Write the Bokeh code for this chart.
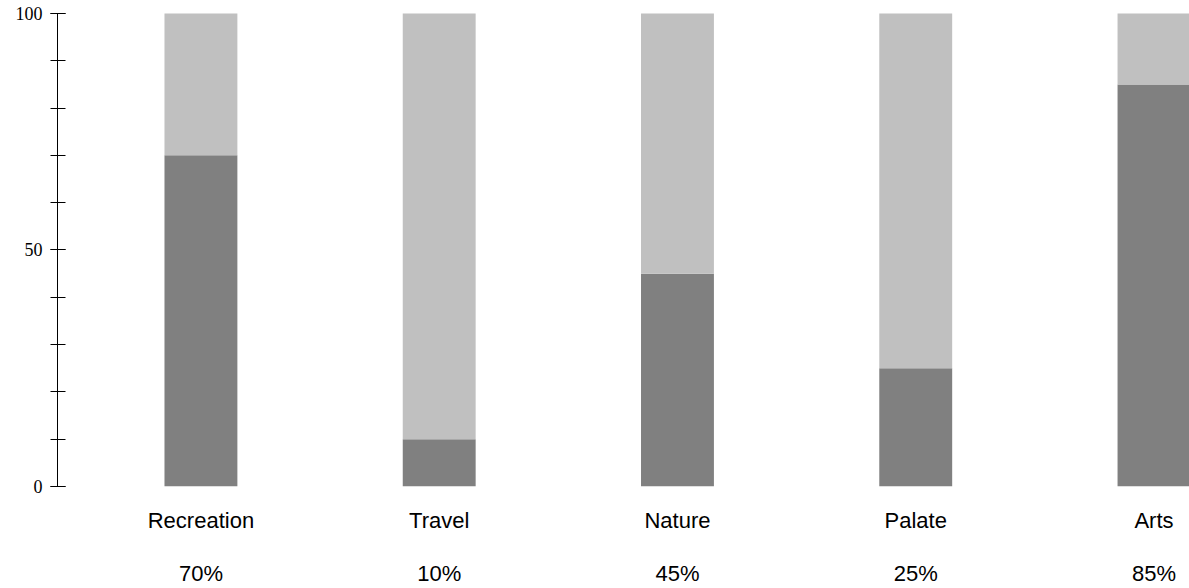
from bokeh.plotting import figure
from bokeh.models import Range1d, LinearAxis, FixedTicker
from bokeh.embed import file_html
from bokeh.resources import INLINE

categories = ["Recreation", "Travel", "Nature", "Palate", "Arts"]
values = [70, 10, 45, 25, 85]
totals = [100, 100, 100, 100, 100]
y_major_ticks = [0, 50, 100]
y_minor_ticks = [0, 10, 20, 30, 40, 50, 60, 70, 80, 90, 100]

x = list(range(len(categories)))
percent_labels = [f"{v}%" for v in values]

p = figure(width=1189, height=588,
           x_range=Range1d(-0.602, 4.149), y_range=Range1d(0, 100.2),
           output_backend="svg", toolbar_location=None,
           x_axis_location=None, y_axis_location=None,
           min_border_left=57, min_border_right=0, min_border_top=12, min_border_bottom=102)
p.grid.visible = False
p.outline_line_color = None
p.background_fill_color = "white"
p.border_fill_color = "white"

bw = 0.306
p.vbar(x=x, bottom=0, top=values, width=bw, fill_color="#808080", line_color=None)
p.vbar(x=x, bottom=values, top=totals, width=bw, fill_color="#c0c0c0", line_color=None)

yaxis = LinearAxis(ticker=FixedTicker(ticks=y_major_ticks, minor_ticks=y_minor_ticks),
                   bounds=(0, 100))
yaxis.axis_line_color = "black"
yaxis.axis_line_width = 1
yaxis.major_tick_line_color = "black"
yaxis.minor_tick_line_color = "black"
yaxis.major_tick_in = 8
yaxis.major_tick_out = 7
yaxis.minor_tick_in = 8
yaxis.minor_tick_out = 7
yaxis.major_label_standoff = 8
yaxis.major_label_text_font = "Liberation Serif"
yaxis.major_label_text_font_size = "18px"
yaxis.major_label_text_color = "black"
p.add_layout(yaxis, "left")

def label_axis(labels, standoff):
    ax = LinearAxis(ticker=FixedTicker(ticks=x),
                    major_label_overrides={i: t for i, t in zip(x, labels)})
    ax.axis_line_color = None
    ax.major_tick_line_color = None
    ax.minor_tick_line_color = None
    ax.major_tick_out = 0
    ax.major_tick_in = 0
    ax.minor_tick_out = 0
    ax.minor_tick_in = 0
    ax.major_label_standoff = standoff
    ax.major_label_text_font = "Liberation Sans"
    ax.major_label_text_font_size = "22px"
    ax.major_label_text_color = "black"
    return ax

p.add_layout(label_axis(categories, 21), "below")
p.add_layout(label_axis(percent_labels, 25), "below")

open("out.html", "w").write(file_html(p, INLINE))
